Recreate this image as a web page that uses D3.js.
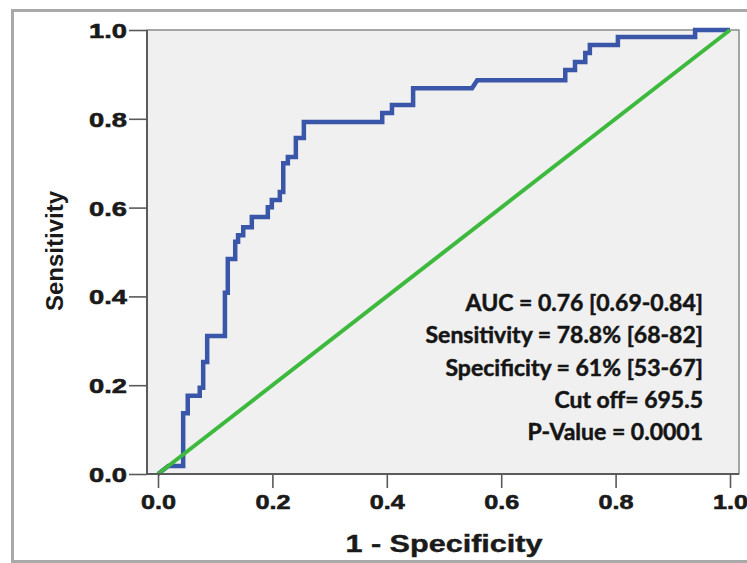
<!DOCTYPE html>
<html>
<head>
<meta charset="utf-8">
<script src="https://cdn.jsdelivr.net/npm/d3@7"></script>
<style>
  html, body { margin: 0; padding: 0; background: #ffffff; }
  svg { display: block; }
</style>
</head>
<body>
<svg id="chart" width="747" height="563"></svg>
<script>
// ---- Data ----
const fpr = [0, 0.018, 0.044, 0.044, 0.052, 0.052, 0.073, 0.073, 0.079, 0.079, 0.086, 0.086,
  0.117, 0.117, 0.122, 0.122, 0.135, 0.135, 0.140, 0.140, 0.149, 0.149, 0.164, 0.164,
  0.192, 0.192, 0.199, 0.199, 0.213, 0.213, 0.219, 0.219, 0.227, 0.227, 0.241, 0.241,
  0.255, 0.255, 0.392, 0.392, 0.409, 0.409, 0.446, 0.446, 0.549, 0.558, 0.712, 0.712,
  0.729, 0.729, 0.747, 0.747, 0.755, 0.755, 0.804, 0.804, 0.939, 0.939, 1.0];
const tpr = [0, 0.018, 0.018, 0.137, 0.137, 0.176, 0.176, 0.194, 0.194, 0.252, 0.252, 0.311,
  0.311, 0.408, 0.408, 0.484, 0.484, 0.523, 0.523, 0.538, 0.538, 0.556, 0.556, 0.579,
  0.579, 0.601, 0.601, 0.617, 0.617, 0.635, 0.635, 0.700, 0.700, 0.714, 0.714, 0.757,
  0.757, 0.793, 0.793, 0.813, 0.813, 0.831, 0.831, 0.869, 0.869, 0.887, 0.887, 0.910,
  0.910, 0.928, 0.928, 0.948, 0.948, 0.966, 0.966, 0.984, 0.984, 1.0, 1.0];
const refX = [0, 1];
const refY = [0, 1];
const xTicks = [0, 0.2, 0.4, 0.6, 0.8, 1.0];
const yTicks = [0, 0.2, 0.4, 0.6, 0.8, 1.0];
const xTitle = "1 - Specificity";
const yTitle = "Sensitivity";
const annotLines = [
  "AUC = 0.76 [0.69-0.84]",
  "Sensitivity = 78.8% [68-82]",
  "Specificity = 61% [53-67]",
  "Cut off= 695.5",
  "P-Value = 0.0001"
];

// ---- Layout ----
const svg = d3.select("#chart");
const frame = { left: 147, right: 739, top: 30, bottom: 474 };
const x = d3.scaleLinear().domain([0, 1]).range([158, 730]);
const y = d3.scaleLinear().domain([0, 1]).range([474, 30]);

// outer border
svg.append("rect")
  .attr("x", 12.5).attr("y", 10.5).attr("width", 800).attr("height", 551)
  .attr("fill", "#ffffff").attr("stroke", "#a9a9a9").attr("stroke-width", 3);

// plot background
svg.append("rect")
  .attr("x", frame.left).attr("y", frame.top)
  .attr("width", frame.right - frame.left).attr("height", frame.bottom - frame.top)
  .attr("fill", "#f0f0f0").attr("stroke", "#8a8a8a").attr("stroke-width", 1.5);

// ROC curve
const roc = fpr.map((d, i) => [d, tpr[i]]);
const line = d3.line().x(d => x(d[0])).y(d => y(d[1]));
svg.append("path")
  .datum(roc)
  .attr("d", line)
  .attr("fill", "none")
  .attr("stroke", "#3a56a8")
  .attr("stroke-width", 4.5)
  .attr("stroke-linejoin", "miter");

// reference line
const ref = refX.map((d, i) => [d, refY[i]]);
svg.append("path")
  .datum(ref)
  .attr("d", line)
  .attr("fill", "none")
  .attr("stroke", "#3dba3d")
  .attr("stroke-width", 4);

// axes
const fmt = d3.format(".1f");
const yAxis = svg.append("g")
  .attr("transform", `translate(${frame.left},0)`)
  .call(d3.axisLeft(y).tickValues(yTicks).tickFormat(fmt).tickSize(18).tickSizeOuter(0));
const xAxis = svg.append("g")
  .attr("transform", `translate(0,${frame.bottom})`)
  .call(d3.axisBottom(x).tickValues(xTicks).tickFormat(fmt).tickSize(14).tickSizeOuter(0));

[yAxis, xAxis].forEach(g => {
  g.select(".domain").remove();
  g.selectAll(".tick line").attr("stroke", "#5a5a5a").attr("stroke-width", 1.6);
  g.selectAll(".tick text")
    .attr("fill", "#1a1a1a")
    .attr("stroke", "#1a1a1a")
    .attr("stroke-width", 0.6)
    .style("font-family", "'Liberation Sans', Arial, sans-serif")
    .style("font-weight", "bold")
    .style("font-size", "21px");
});
yAxis.selectAll(".tick text")
  .attr("x", null).attr("dy", "0.36em")
  .attr("transform", "translate(-20,0) scale(1.3,1)");
xAxis.selectAll(".tick text")
  .attr("y", null).attr("dy", null)
  .attr("transform", "translate(0,35) scale(1.2,1)");

// axis lines
svg.append("line")
  .attr("x1", frame.left).attr("x2", frame.left)
  .attr("y1", frame.top).attr("y2", frame.bottom)
  .attr("stroke", "#5a5a5a").attr("stroke-width", 2);
svg.append("line")
  .attr("x1", frame.left).attr("x2", frame.right)
  .attr("y1", frame.bottom).attr("y2", frame.bottom)
  .attr("stroke", "#5a5a5a").attr("stroke-width", 2);

// axis titles
svg.append("text")
  .attr("transform", "translate(444,552) scale(1.33,1)")
  .attr("text-anchor", "middle")
  .attr("fill", "#1a1a1a")
  .attr("stroke", "#1a1a1a")
  .attr("stroke-width", 0.4)
  .style("font-family", "'Liberation Sans', Arial, sans-serif")
  .style("font-weight", "bold")
  .style("font-size", "23px")
  .text(xTitle);
svg.append("text")
  .attr("transform", "translate(63,251) rotate(-90)")
  .attr("text-anchor", "middle")
  .attr("fill", "#1a1a1a")
  .style("font-family", "'Liberation Sans', Arial, sans-serif")
  .style("font-weight", "bold")
  .style("font-size", "24px")
  .text(yTitle);

// annotation
const annot = svg.append("g");
annot.selectAll("text")
  .data(annotLines)
  .join("text")
  .attr("x", 703)
  .attr("y", (d, i) => 311 + i * 32.3)
  .attr("text-anchor", "end")
  .attr("fill", "#151515")
  .attr("stroke", "#151515")
  .attr("stroke-width", 0.5)
  .style("font-family", "Lato, 'Open Sans', sans-serif")
  .style("font-weight", "bold")
  .style("font-size", "23px")
  .text(d => d);
</script>
</body>
</html>
